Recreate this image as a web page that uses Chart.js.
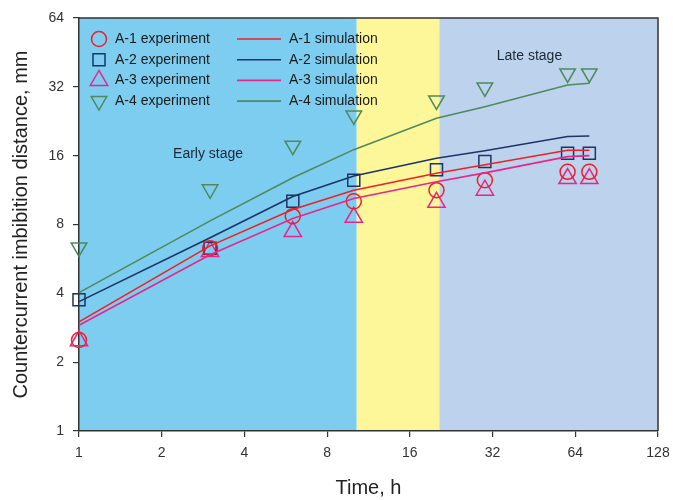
<!DOCTYPE html>
<html><head><meta charset="utf-8">
<script src="https://cdn.jsdelivr.net/npm/chart.js@4/dist/chart.umd.min.js"></script>
<style>html,body{margin:0;padding:0;background:#fff}#wrap{width:673px;height:500px}</style>
</head><body><div id="wrap"><canvas id="c" width="673" height="500"></canvas></div>
<script>
// ---- data ----
const timeH  = [1, 3, 6, 10, 20, 30, 60, 72];
const a1Exp  = [2.5, 6.3, 8.7, 10.1, 11.3, 12.5, 13.6, 13.6];
const a2Exp  = [3.75, 6.3, 10.1, 12.5, 13.9, 15.1, 16.4, 16.4];
const a3Exp  = [2.48, 6.1, 7.45, 8.6, 10.0, 11.3, 12.7, 12.7];
const a4Exp  = [6.35, 11.4, 17.7, 24.0, 27.9, 31.8, 36.6, 36.6];
const a1Sim  = [3.0, 6.45, 9.3, 11.3, 13.4, 14.6, 16.9, 16.9];
const a2Sim  = [3.68, 7.0, 10.6, 13.05, 15.6, 16.8, 19.4, 19.5];
const a3Sim  = [2.9, 5.9, 8.5, 10.4, 12.3, 13.45, 15.85, 16.0];
const a4Sim  = [4.03, 8.3, 12.8, 17.0, 23.3, 26.2, 32.6, 33.2];
const xTicks = [1, 2, 4, 8, 16, 32, 64, 128];
const yTicks = [1, 2, 4, 8, 16, 32, 64];
const stageBounds = [1, 10.25, 20.5, 128];
const stageNotes = [
  {text: 'Early stage', x: 2.95, y: 16.3},
  {text: 'Late stage', x: 43.6, y: 43.4}
];

const FONT = "'Liberation Sans', Arial, Helvetica, sans-serif";
Chart.defaults.font.family = FONT;

const C = {red:'#EE2027', navy:'#1E3366', mag:'#E8258C', green:'#4E8A5C'};
const stageColors = ['#7DCDF1', '#FEF79A', '#BDD3ED'];

const pts = arr => timeH.map((t, i) => ({x: t, y: arr[i]}));
function expSet(label, arr, color, style, r, rot) {
  return {label, data: pts(arr), showLine: false, borderColor: color, backgroundColor: 'rgba(0,0,0,0)',
    pointStyle: style, pointRadius: r, pointHoverRadius: r, pointBorderWidth: 1.5, pointRotation: rot || 0,
    pointBackgroundColor: 'rgba(0,0,0,0)', pointBorderColor: color, clip: false, _kind: 'exp'};
}
function simSet(label, arr, color) {
  return {label, data: pts(arr), showLine: true, borderColor: color, backgroundColor: color,
    borderWidth: 1.6, pointRadius: 0, tension: 0, clip: false, _kind: 'sim'};
}
const datasets = [
  simSet('A-1 simulation', a1Sim, C.red),
  simSet('A-2 simulation', a2Sim, C.navy),
  simSet('A-3 simulation', a3Sim, C.mag),
  simSet('A-4 simulation', a4Sim, C.green),
  expSet('A-1 experiment', a1Exp, C.red, 'circle', 7.5),
  expSet('A-2 experiment', a2Exp, C.navy, 'rect', 8.5),
  expSet('A-3 experiment', a3Exp, C.mag, 'triangle', 10),
  expSet('A-4 experiment', a4Exp, C.green, 'triangle', 9, 180)
];

const decor = {
  id: 'decor',
  beforeDraw(chart) {
    const {ctx, chartArea: a, scales: {x}} = chart;
    ctx.save();
    for (let i = 0; i < stageColors.length; i++) {
      const x0 = x.getPixelForValue(stageBounds[i]);
      const x1 = x.getPixelForValue(stageBounds[i + 1]);
      ctx.fillStyle = stageColors[i];
      ctx.fillRect(x0, a.top, x1 - x0, a.bottom - a.top);
    }
    ctx.restore();
  },
  afterDraw(chart) {
    const {ctx, chartArea: a, scales: {x, y}} = chart;
    ctx.save();
    // frame top/right
    ctx.strokeStyle = '#333'; ctx.lineWidth = 1.5;
    ctx.beginPath();
    ctx.moveTo(a.left, a.top); ctx.lineTo(a.right, a.top); ctx.lineTo(a.right, a.bottom);
    ctx.stroke();
    // stage notes
    ctx.fillStyle = '#1c2833'; ctx.font = '14px ' + FONT;
    ctx.textAlign = 'center'; ctx.textBaseline = 'middle';
    stageNotes.forEach(n => ctx.fillText(n.text, x.getPixelForValue(n.x), y.getPixelForValue(n.y)));
    // legend (two columns: experiments, simulations)
    const exps = chart.data.datasets.filter(d => d._kind === 'exp');
    const sims = chart.data.datasets.filter(d => d._kind === 'sim');
    const top = a.top + 21, step = 20.7;
    ctx.textAlign = 'left';
    exps.forEach((d, i) => {
      const yy = top + i * step;
      ctx.fillStyle = 'rgba(0,0,0,0)';
      ctx.strokeStyle = d.borderColor; ctx.lineWidth = 1.5;
      Chart.helpers.drawPoint(ctx, {pointStyle: d.pointStyle, radius: d.pointRadius, rotation: d.pointRotation,
        borderWidth: 1.5}, a.left + 20, yy);
      ctx.fillStyle = '#1a1a1a';
      ctx.fillText(d.label, a.left + 36, yy);
    });
    sims.forEach((d, i) => {
      const yy = top + i * step;
      ctx.strokeStyle = d.borderColor; ctx.lineWidth = 1.6;
      ctx.beginPath(); ctx.moveTo(a.left + 158, yy); ctx.lineTo(a.left + 202, yy); ctx.stroke();
      ctx.fillStyle = '#1a1a1a';
      ctx.fillText(d.label, a.left + 210, yy);
    });
    ctx.restore();
  }
};

function axis(ticksArr, title, isX) {
  return {
    type: 'logarithmic', min: ticksArr[0], max: ticksArr[ticksArr.length - 1],
    afterBuildTicks: s => { s.ticks = ticksArr.map(v => ({value: v})); },
    ticks: {callback: v => String(v), font: {size: 14}, color: '#333', padding: isX ? 8 : 9,
      maxRotation: 0, autoSkip: false},
    grid: {drawOnChartArea: false, drawTicks: true, tickLength: 6, color: '#333', lineWidth: 1.2},
    border: {display: true, color: '#333', width: 1.5},
    title: {display: true, text: title, font: {size: 20}, color: '#222',
      padding: isX ? {top: 0, bottom: 0} : {top: 9, bottom: 0}},
    afterFit: s => {
      if (isX) { s.height = 69; s.paddingLeft = 0; s.paddingRight = 0; }
      else { s.width = 79; s.paddingTop = 0; s.paddingBottom = 0; }
    }
  };
}

new Chart(document.getElementById('c'), {
  type: 'line',
  data: {datasets},
  options: {
    responsive: false, animation: false, events: [],
    layout: {padding: {top: 18, right: 15, left: 0, bottom: 0}},
    plugins: {legend: {display: false}, tooltip: {enabled: false}},
    scales: {
      x: axis(xTicks, 'Time, h', true),
      y: axis(yTicks, 'Countercurrent imbibition distance, mm', false)
    }
  },
  plugins: [decor]
});
</script>
</body></html>
